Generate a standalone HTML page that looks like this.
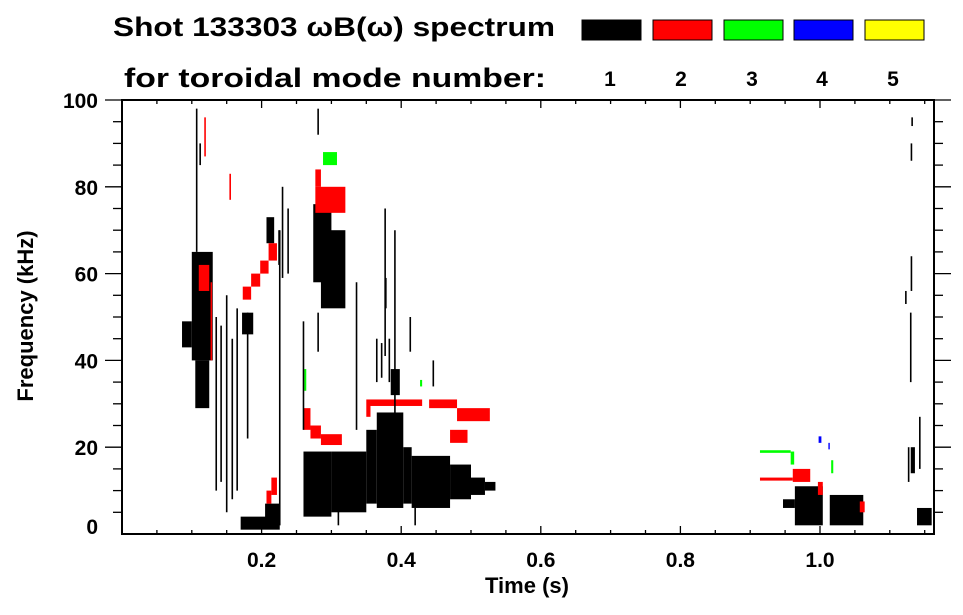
<!DOCTYPE html>
<html><head><meta charset="utf-8">
<style>
html,body{margin:0;padding:0;background:#fff;}
svg{display:block;font-family:"Liberation Sans",sans-serif;font-weight:bold;}
</style></head>
<body>
<svg id="chart" width="963" height="615" viewBox="0 0 963 615" xmlns="http://www.w3.org/2000/svg">
  <rect x="0" y="0" width="963" height="615" fill="#fff"/>
  <text x="113" y="36" font-size="27" textLength="442" lengthAdjust="spacingAndGlyphs">Shot 133303 ωB(ω) spectrum</text>
  <text x="124" y="87" font-size="27" textLength="422" lengthAdjust="spacingAndGlyphs">for toroidal mode number:</text>
  <g id="legend"></g>
  <g id="marks"></g>
  <g id="axes"></g>
  <text x="527" y="593" font-size="22" text-anchor="middle">Time (s)</text>
  <text transform="translate(33,316) rotate(-90)" font-size="22" text-anchor="middle">Frequency (kHz)</text>
</svg>
<script>
// ---- data ----
const modeNumbers = [1, 2, 3, 4, 5];
const modeColors = ["#000000", "#ff0000", "#00ff00", "#0000ff", "#ffff00"];
const xTickLabels = ["0.2", "0.4", "0.6", "0.8", "1.0"];
const xTickValues = [0.2, 0.4, 0.6, 0.8, 1.0];
const yTickLabels = ["0", "20", "40", "60", "80", "100"];
const yTickValues = [0, 20, 40, 60, 80, 100];
// blobs: [tStart, tEnd, fLow, fHigh]
const mode1Blobs = [
  [0.086,0.100,43,49],[0.100,0.130,40,65],[0.105,0.125,29,40],[0.172,0.188,46,51],
  [0.170,0.226,1,4],[0.205,0.225,3,7],[0.207,0.218,67,73],
  [0.274,0.300,58,76],[0.285,0.320,52,70],
  [0.260,0.300,4,19],[0.300,0.350,5,19],[0.350,0.365,7,24],[0.365,0.403,6,28],
  [0.403,0.415,7,20],[0.415,0.470,6,18],[0.470,0.500,8,16],[0.500,0.520,9,13],[0.520,0.535,10,12],
  [0.385,0.398,32,38],
  [0.964,1.004,2,11],[0.947,0.964,6,8],[1.014,1.062,2,9],[1.139,1.160,2,6],[1.130,1.136,14,20]
];
const mode2Blobs = [
  [0.110,0.125,56,62],[0.173,0.185,54,57],[0.185,0.198,57,60],[0.198,0.210,60,63],[0.210,0.222,63,67],
  [0.207,0.214,7,10],[0.214,0.222,9,13],
  [0.277,0.320,74,80],[0.277,0.285,80,84],
  [0.260,0.270,24,29],[0.270,0.285,22,25],[0.285,0.315,20.5,23],
  [0.350,0.356,27,31],[0.356,0.430,29.5,31],[0.440,0.480,29,31],[0.480,0.527,26,29],[0.470,0.495,21,24],
  [0.961,0.986,12,15],[0.914,0.961,12.3,13],[0.997,1.004,9,12],[1.057,1.064,5,7.5]
];
const mode3Blobs = [
  [0.288,0.308,85,88],[0.427,0.430,34,35.5],[0.261,0.264,33,38],[0.914,0.958,18.7,19.3],
  [0.958,0.963,16,19],[1.016,1.019,14,17]
];
const mode4Blobs = [
  [0.998,1.002,21,22.5],[1.012,1.014,19.5,21]
];
const mode5Blobs = [];
// spikes: [t, fLow, fHigh]
const mode1Spikes = [
  [0.107,65,98],[0.112,85,90],[0.135,10,50],[0.142,12,48],[0.150,5,55],[0.158,8,45],[0.165,10,52],
  [0.180,22,51],[0.226,2,70],[0.225,62,70],[0.230,59,80],[0.238,60,75],
  [0.391,28,70],[0.377,41,75],[0.378,52,59],[0.413,42,50],[0.446,34,40],[0.336,24,58],
  [0.281,92,98],[0.260,24,49],[0.281,42,51],[0.365,35,45],[0.372,36,44],[0.383,35,45],
  [0.310,2,6],[0.420,2,6],
  [1.127,12,20],[1.130,35,51],[1.131,56,64],[1.131,86,90],[1.132,94,96],[1.123,53,56],[1.143,15,27]
];
const mode2Spikes = [[0.119,87,96],[0.155,77,83],[0.128,40,58]];

// ---- axis functions ----
const X0 = 122, XPX = 698, Y0 = 534, YPX = 4.34;
const xScale = t => X0 + t * XPX;
const yScale = f => Y0 - f * YPX;
const NS = "http://www.w3.org/2000/svg";
function mk(tag, attrs, parent) {
  const el = document.createElementNS(NS, tag);
  for (const k in attrs) el.setAttribute(k, attrs[k]);
  parent.appendChild(el);
  return el;
}
const marks = document.getElementById("marks");
const axes = document.getElementById("axes");
const legend = document.getElementById("legend");

// legend
const legendX = [582, 653, 724, 794, 865];
modeNumbers.forEach((m, i) => {
  const r = mk("rect", {x: legendX[i], y: 20, width: 59, height: 20, fill: modeColors[i], stroke: "#000", "stroke-width": 1}, legend);
  
  
  const t = mk("text", {x: legendX[i] + 28, y: 86, "font-size": 21, "text-anchor": "middle"}, legend);
  t.textContent = String(m);
  
  
});

// marks
const blobSets = [mode1Blobs, mode2Blobs, mode3Blobs, mode4Blobs, mode5Blobs];
blobSets.forEach((set, mi) => {
  set.forEach(b => {
    const x = xScale(b[0]), w = Math.max(1, xScale(b[1]) - x);
    const y = yScale(b[3]), h = Math.max(1, yScale(b[2]) - y);
    const r = mk("rect", {x: x, y: y, width: w, height: h, fill: modeColors[mi]}, marks);
    
    
  });
});
[[mode1Spikes, 0], [mode2Spikes, 1]].forEach(([set, mi]) => {
  set.forEach(s => {
    const l = mk("line", {x1: xScale(s[0]), x2: xScale(s[0]), y1: yScale(s[1]), y2: yScale(s[2]), stroke: modeColors[mi], "stroke-width": 1.6}, marks);
    
    
  });
});

// axes frame
const XR = 934, YT = 100;
const frame = mk("rect", {x: X0, y: YT, width: XR - X0, height: Y0 - YT, fill: "none", stroke: "#000", "stroke-width": 2}, axes);


// x ticks (minor every 0.05, inward)
for (let k = 1; k * 0.05 < 1.163; k++) {
  const t = k * 0.05, x = xScale(t);
  const major = k % 4 === 0;
  const len = major ? 8 : 4;
  mk("line", {x1: x, x2: x, y1: Y0, y2: Y0 - len, stroke: "#000", "stroke-width": 1.3}, axes);
  mk("line", {x1: x, x2: x, y1: YT, y2: YT + len, stroke: "#000", "stroke-width": 1.3}, axes);
}
xTickValues.forEach((v, i) => {
  const t = mk("text", {x: xScale(v), y: 567, "font-size": 21, "text-anchor": "middle"}, axes);
  t.textContent = xTickLabels[i];
  
  
});
// y ticks (minor every 5, outward)
for (let k = 1; k < 20; k++) {
  const f = k * 5, y = yScale(f);
  const major = k % 4 === 0;
  const len = major ? 17 : 9;
  mk("line", {x1: X0, x2: X0 - len, y1: y, y2: y, stroke: "#000", "stroke-width": 1.3}, axes);
  mk("line", {x1: XR, x2: XR + len, y1: y, y2: y, stroke: "#000", "stroke-width": 1.3}, axes);
}
mk("line", {x1: X0, x2: X0 - 17, y1: YT, y2: YT, stroke: "#000", "stroke-width": 1.3}, axes);
mk("line", {x1: XR, x2: XR + 17, y1: YT, y2: YT, stroke: "#000", "stroke-width": 1.3}, axes);
yTickValues.forEach((v, i) => {
  let y = yScale(v) + 8;
  if (v === 0) y -= 8;
  const t = mk("text", {x: 98, y: y, "font-size": 21, "text-anchor": "end"}, axes);
  t.textContent = yTickLabels[i];
  
  
});
</script>
</body></html>
